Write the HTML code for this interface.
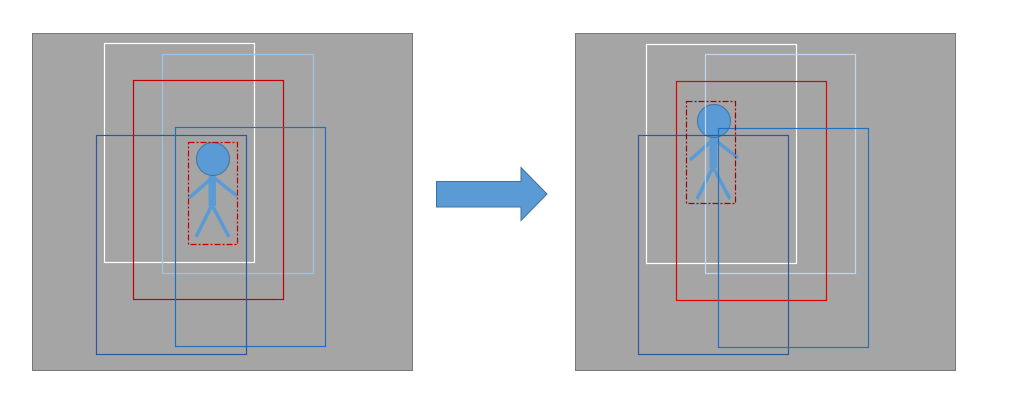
<!DOCTYPE html>
<html><head><meta charset="utf-8"><style>html,body{margin:0;padding:0;background:#fff;}svg{display:block}</style></head>
<body>
<svg width="1014" height="401" viewBox="0 0 1014 401">
<defs>
<g id="fig">
<line x1="213" y1="177" x2="189" y2="198" stroke="#5B9BD5" stroke-width="3.5"/>
<line x1="213" y1="177" x2="237" y2="196" stroke="#5B9BD5" stroke-width="3.5"/>
<line x1="212" y1="205" x2="196" y2="237" stroke="#5B9BD5" stroke-width="3.5"/>
<line x1="212" y1="205" x2="229" y2="237" stroke="#5B9BD5" stroke-width="3.5"/>
<rect x="208.5" y="174" width="7.5" height="32" fill="#5B9BD5"/>
<circle cx="213" cy="159" r="16.5" fill="#5B9BD5" stroke="#41719C" stroke-width="1"/>
</g>
</defs>
<g>
<rect x="32.5" y="33.5" width="380" height="337" fill="#A5A5A5" stroke="#787878" stroke-width="1"/>
<use href="#fig"/>
<g fill="none" stroke-width="1.2">
<rect x="104.5" y="43.5" width="150" height="219" stroke="#FFFFFF"/>
<rect x="162.5" y="54.5" width="151" height="219" stroke="#9DC3E6"/>
<rect x="133.5" y="80.5" width="150" height="219" stroke="#C00000"/>
<rect x="96.5" y="135.5" width="150" height="219" stroke="#2F55A0"/>
<rect x="175.5" y="127.5" width="150" height="219" stroke="#1F70C1"/>
<rect x="188.5" y="142.5" width="49" height="102" stroke="#C00000" stroke-dasharray="6,2,2,2"/>
</g>
</g>
<path d="M436.5,181.5 H521 V167.5 L547,194 L521,220.5 V207 H436.5 Z" fill="#5B9BD5" stroke="#41719C" stroke-width="1"/>
<g>
<rect x="575.5" y="33.5" width="380" height="337" fill="#A5A5A5" stroke="#787878" stroke-width="1"/>
<use href="#fig" transform="translate(501,-38)"/>
<g fill="none" stroke-width="1.2">
<rect x="646.5" y="44.5" width="150" height="219" stroke="#FFFFFF"/>
<rect x="705.5" y="54.5" width="150" height="219" stroke="#BDD7EE"/>
<rect x="676.5" y="81.5" width="150" height="219" stroke="#E00000"/>
<rect x="638.5" y="135.5" width="150" height="219" stroke="#2F55A0"/>
<rect x="718.5" y="128.5" width="150" height="219" stroke="#1F70C1"/>
<rect x="686.5" y="101.5" width="49" height="102" stroke="#A00000" stroke-dasharray="6,2,2,2"/>
</g>
</g>
</svg>
</body></html>
